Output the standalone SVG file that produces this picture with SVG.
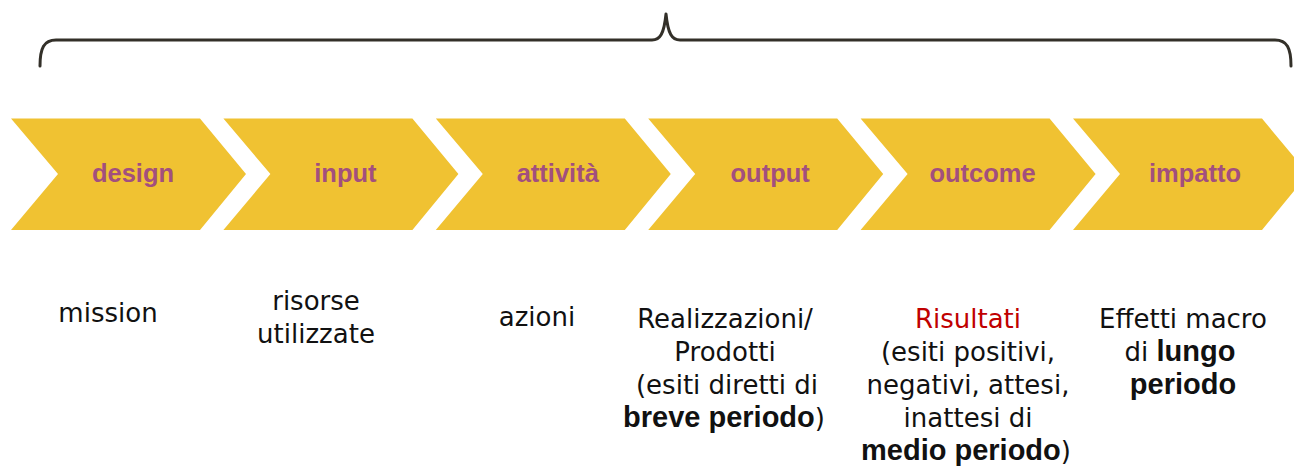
<svg xmlns="http://www.w3.org/2000/svg" width="1294" height="468" viewBox="0 0 1294 468">
<style>
.chev{fill:#F0C232}
.lbl{font-family:"Liberation Sans",Arial,sans-serif;font-weight:bold;font-size:25.5px;fill:#A24F7E;text-anchor:middle}
.t{font-family:"DejaVu Sans",sans-serif;font-size:26px;fill:#111;text-anchor:middle}
.b{font-family:"Liberation Sans",Arial,sans-serif;font-weight:bold;font-size:29px}
.red{fill:#C00000}
.brace{fill:none;stroke:#333029;stroke-width:3;stroke-linecap:round;stroke-linejoin:round}
</style>
<defs>
<path id="chevron" d="M0,118.5 L189,118.5 L235,174 L189,230 L0,230 L47,174 Z"/>
</defs>
<g id="brace"><path class="brace" d="M40,66 C40,48 44,40 56,40 L652,40 C660,40 664,34 666,14 C668,34 672,40 680,40 L1275,40 C1287,40 1291,48 1291,66"/></g>
<g id="node-design"><use href="#chevron" class="chev" x="11"/><text class="lbl" x="133" y="182">design</text></g>
<g id="node-input"><use href="#chevron" class="chev" x="223.4"/><text class="lbl" x="345.4" y="182">input</text></g>
<g id="node-attivita"><use href="#chevron" class="chev" x="435.8"/><text class="lbl" x="557.8" y="182">attività</text></g>
<g id="node-output"><use href="#chevron" class="chev" x="648.2"/><text class="lbl" x="770.2" y="182">output</text></g>
<g id="node-outcome"><use href="#chevron" class="chev" x="860.6"/><text class="lbl" x="982.6" y="182">outcome</text></g>
<g id="node-impatto"><use href="#chevron" class="chev" x="1073"/><text class="lbl" x="1195" y="182">impatto</text></g>
<g id="connectors"></g>
<g id="desc-design"><text class="t" x="108" y="322">mission</text></g>
<g id="desc-input"><text class="t" x="316" y="310">risorse</text><text class="t" x="316" y="343">utilizzate</text></g>
<g id="desc-attivita"><text class="t" x="537" y="326">azioni</text></g>
<g id="desc-output">
<text class="t" x="725" y="328">Realizzazioni/</text>
<text class="t" x="725" y="361">Prodotti</text>
<text class="t" x="727" y="394">(esiti diretti di</text>
<text class="t" x="724" y="427"><tspan class="b">breve periodo</tspan>)</text>
</g>
<g id="desc-outcome">
<text class="t red" x="968" y="328">Risultati</text>
<text class="t" x="968" y="361">(esiti positivi,</text>
<text class="t" x="968" y="394">negativi, attesi,</text>
<text class="t" x="968" y="427">inattesi di</text>
<text class="t" x="966" y="460"><tspan class="b">medio periodo</tspan>)</text>
</g>
<g id="desc-impatto">
<text class="t" x="1183" y="328">Effetti macro</text>
<text class="t" x="1180" y="361">di <tspan class="b">lungo</tspan></text>
<text class="t" x="1183" y="394"><tspan class="b">periodo</tspan></text>
</g>
</svg>
